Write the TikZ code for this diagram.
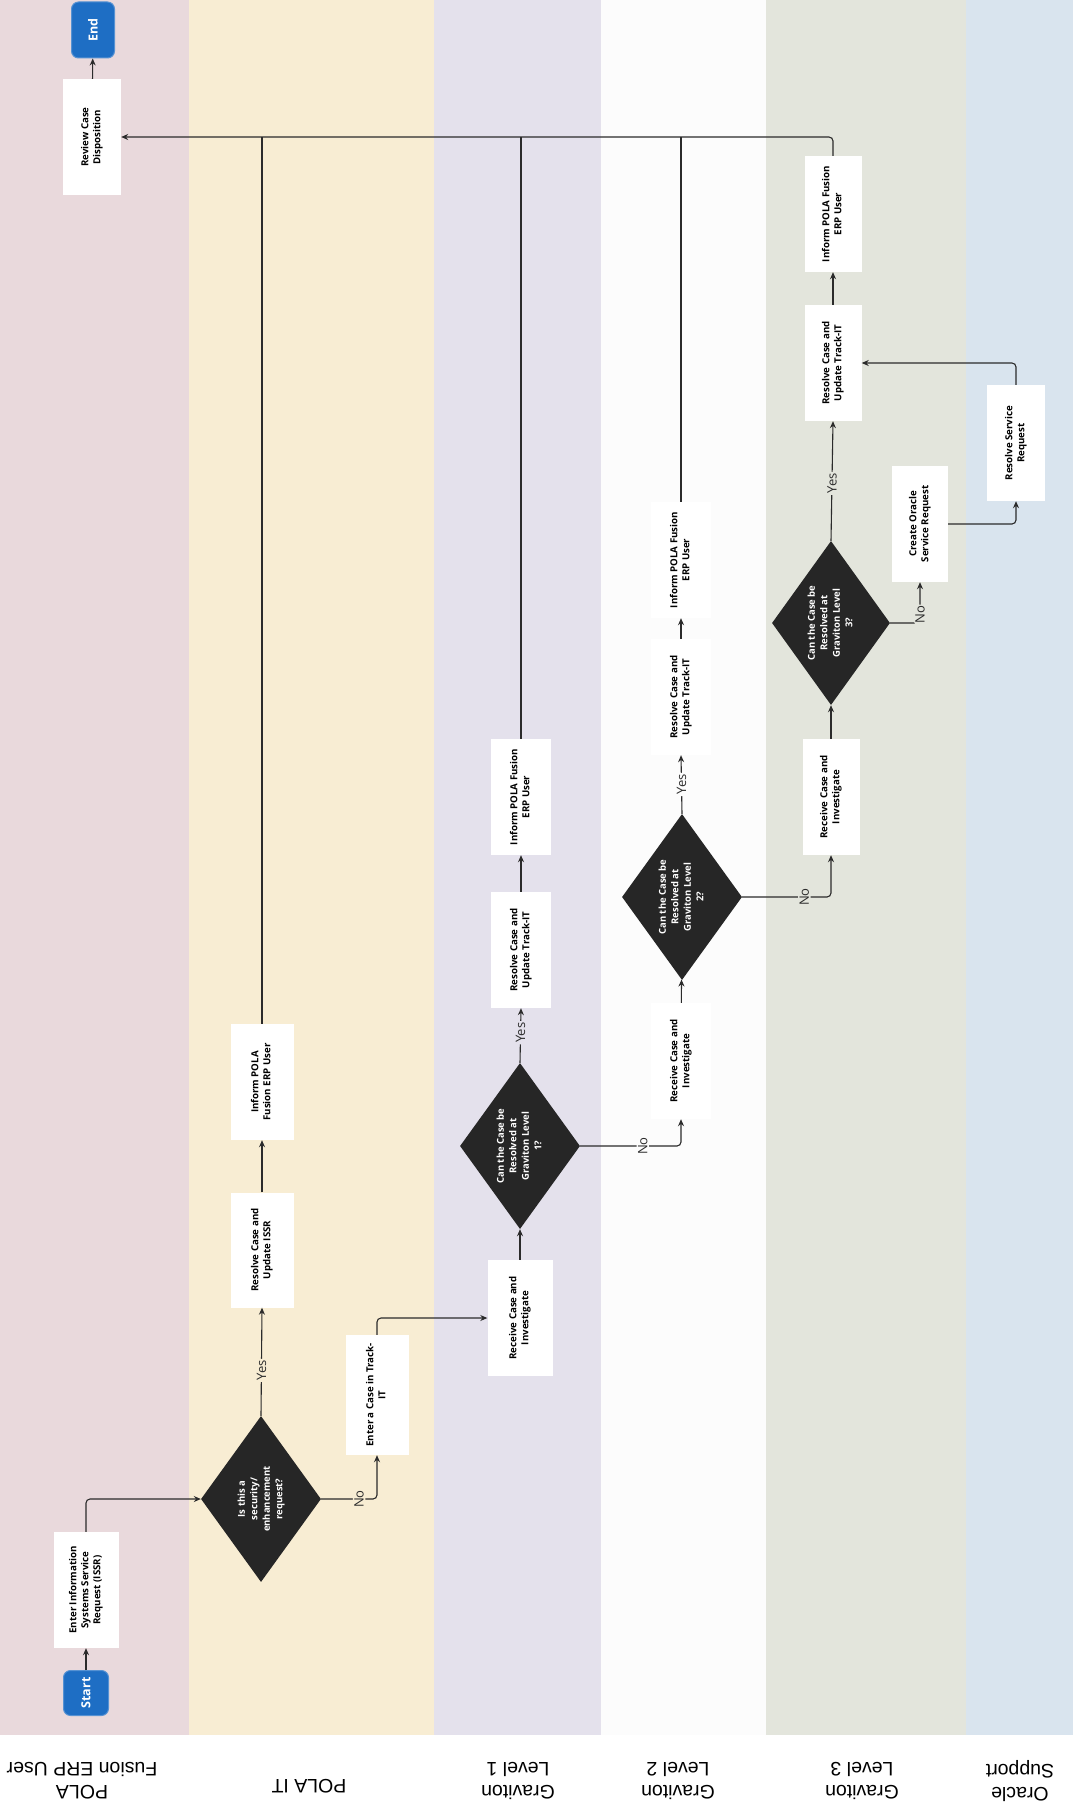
\documentclass[tikz,border=0pt]{standalone}
\usepackage{fontspec}
\setmainfont{Open Sans}
\newfontfamily\lanefont{Liberation Sans}
\usepackage{graphicx}
\usetikzlibrary{shapes.geometric,arrows.meta}
\definecolor{lpink}{HTML}{E9D9DC}
\definecolor{lyel}{HTML}{F8EDD3}
\definecolor{llav}{HTML}{E4E1EC}
\definecolor{lwht}{HTML}{FCFCFC}
\definecolor{lgrn}{HTML}{E3E5DC}
\definecolor{lblu}{HTML}{D9E4EE}
\definecolor{tblue}{HTML}{1E6EC4}
\definecolor{diafill}{HTML}{262626}
\definecolor{ink}{HTML}{2B2B2B}
\newcommand{\rt}[1]{\rotatebox{90}{\begin{tabular}{@{}c@{}}#1\end{tabular}}}
\begin{document}
\begin{tikzpicture}[x=1pt,y=-1pt,
  box/.style={fill=white, inner sep=0pt, minimum width=60pt, minimum height=116pt,
    font=\fontsize{9.7}{12}\selectfont\bfseries},
  dec/.style={diamond, shape aspect=0.7, fill=diafill, text=white, inner sep=0pt,
    minimum width=120pt, minimum height=166pt, font=\fontsize{9.5}{12.5}\selectfont\bfseries},
  term/.style={rounded corners=7pt, fill=tblue, draw=tblue!75!white, line width=1pt,
    text=white, inner sep=0pt, font=\fontsize{12.5}{14}\selectfont\bfseries},
  conn/.style={draw=ink, line width=1.1pt, -{Stealth[length=7pt,width=6pt]}, rounded corners=4pt},
  plain/.style={draw=ink, line width=1.1pt},
  lbl/.style={font=\fontsize{13}{13}\selectfont, inner sep=1.5pt, text=ink},
  lanelbl/.style={rotate=180, align=center, inner sep=0pt, font=\lanefont\fontsize{19.5}{23}\selectfont}]
\useasboundingbox (0,0) rectangle (1073,1803);
\fill[white] (0,0) rectangle (1073,1803);
% lanes
\fill[lpink] (0,0) rectangle (189,1735);
\fill[lyel] (189,0) rectangle (434,1735);
\fill[llav] (434,0) rectangle (601,1735);
\fill[lwht] (601,0) rectangle (766,1735);
\fill[lgrn] (766,0) rectangle (966,1735);
\fill[lblu] (966,0) rectangle (1073,1735);
% lane labels
\node[lanelbl] (lab1) at (82,1781) {POLA\\Fusion ERP User};
\node[lanelbl] (lab2) at (309,1786) {POLA IT};
\node[lanelbl] (lab3) at (518,1781) {Graviton\\Level 1};
\node[lanelbl] (lab4) at (678,1781) {Graviton\\Level 2};
\node[lanelbl] (lab5) at (862,1781) {Graviton\\Level 3};
\node[lanelbl] (lab6) at (1020,1781) {Oracle\\Support};
% nodes
\node[term, minimum width=45pt, minimum height=45pt] (start) at (86,1693) {\rotatebox{90}{Start}};
\node[box, minimum width=65pt] (issr) at (86,1590) {\rt{Enter Information\\Systems Service\\Request (ISSR)}};
\node[dec] (q1) at (261,1499) {\rt{Is this a\\security/\\enhancement\\request?}};
\node[box, minimum width=63pt, minimum height=115pt] (resissr) at (262,1250) {\rt{Resolve Case and\\Update ISSR}};
\node[box, minimum width=63pt] (infit) at (262,1082) {\rt{Inform POLA\\Fusion ERP User}};
\node[box, minimum width=63pt, minimum height=120pt] (enter) at (377,1395) {\rt{Enter a Case in Track-\\IT}};
\node[box, minimum width=65pt] (rec1) at (520,1318) {\rt{Receive Case and\\Investigate}};
\node[dec] (q2) at (520,1146) {\rt{Can the Case be\\Resolved at\\Graviton Level\\1?}};
\node[box] (res1) at (521,950) {\rt{Resolve Case and\\Update Track-IT}};
\node[box] (inf1) at (521,797) {\rt{Inform POLA Fusion\\ERP User}};
\node[box] (rec2) at (681,1061) {\rt{Receive Case and\\Investigate}};
\node[dec] (q3) at (682,897) {\rt{Can the Case be\\Resolved at\\Graviton Level\\2?}};
\node[box] (res2) at (681,697) {\rt{Resolve Case and\\Update Track-IT}};
\node[box] (inf2) at (681,560) {\rt{Inform POLA Fusion\\ERP User}};
\node[box, minimum width=57pt] (rec3) at (831,797) {\rt{Receive Case and\\Investigate}};
\node[dec, minimum width=118pt, minimum height=164pt] (q4) at (831,623) {\rt{Can the Case be\\Resolved at\\Graviton Level\\3?}};
\node[box, minimum width=57pt] (res3) at (833,363) {\rt{Resolve Case and\\Update Track-IT}};
\node[box, minimum width=57pt] (inf3) at (833,214) {\rt{Inform POLA Fusion\\ERP User}};
\node[box, minimum width=56pt] (cre) at (920,524) {\rt{Create Oracle\\Service Request}};
\node[box, minimum width=58pt] (rsr) at (1016,443) {\rt{Resolve Service\\Request}};
\node[box, minimum width=58pt] (rev) at (92,137) {\rt{Review Case\\Disposition}};
\node[term, minimum width=43pt, minimum height=56pt] (end) at (93,30) {\rotatebox{90}{End}};
% connectors
\draw[conn] (start) -- (issr);
\draw[conn] (issr.north) |- (q1.west);
\draw[conn] (q1.north) -- node[lbl, fill=lyel, pos=0.42] {\rotatebox{90}{Yes}} (resissr.south);
\draw[conn] (resissr) -- (infit);
\draw[conn] (q1.east) -| node[lbl, fill=lyel, pos=0.34] {\rotatebox{90}{No}} (enter.south);
\draw[conn] (enter.north) |- (rec1.west);
\draw[conn] (rec1) -- (q2);
\draw[conn] (q2.north) -- node[lbl, fill=llav, pos=0.55] {\rotatebox{90}{Yes}} (res1.south);
\draw[conn] (res1) -- (inf1);
\draw[conn] (q2.east) -| node[lbl, fill=lwht, pos=0.31] {\rotatebox{90}{No}} (rec2.south);
\draw[conn] (rec2) -- (q3);
\draw[conn] (q3.north) -- node[lbl, fill=lwht, pos=0.5] {\rotatebox{90}{Yes}} (res2.south);
\draw[conn] (res2) -- (inf2);
\draw[conn] (q3.east) -| node[lbl, fill=lgrn, pos=0.35] {\rotatebox{90}{No}} (rec3.south);
\draw[conn] (rec3) -- (q4);
\draw[conn] (q4.north) -- node[lbl, fill=lgrn, pos=0.48] {\rotatebox{90}{Yes}} (res3.south);
\draw[conn] (res3) -- (inf3);
\draw[conn] (q4.east) -| node[lbl, fill=lgrn, pos=0.6] {\rotatebox{90}{No}} (cre.south);
\draw[conn] (cre.east) -| (rsr.south);
\draw[conn] (rsr.north) |- (res3.east);
% return lines
\draw[conn] (inf3.north) |- (rev.east);
\draw[plain] (infit.north) -- (infit.north |- rev.east);
\draw[plain] (inf1.north) -- (inf1.north |- rev.east);
\draw[plain] (inf2.north) -- (inf2.north |- rev.east);
\draw[conn] (rev) -- (end);
\end{tikzpicture}
\end{document}
